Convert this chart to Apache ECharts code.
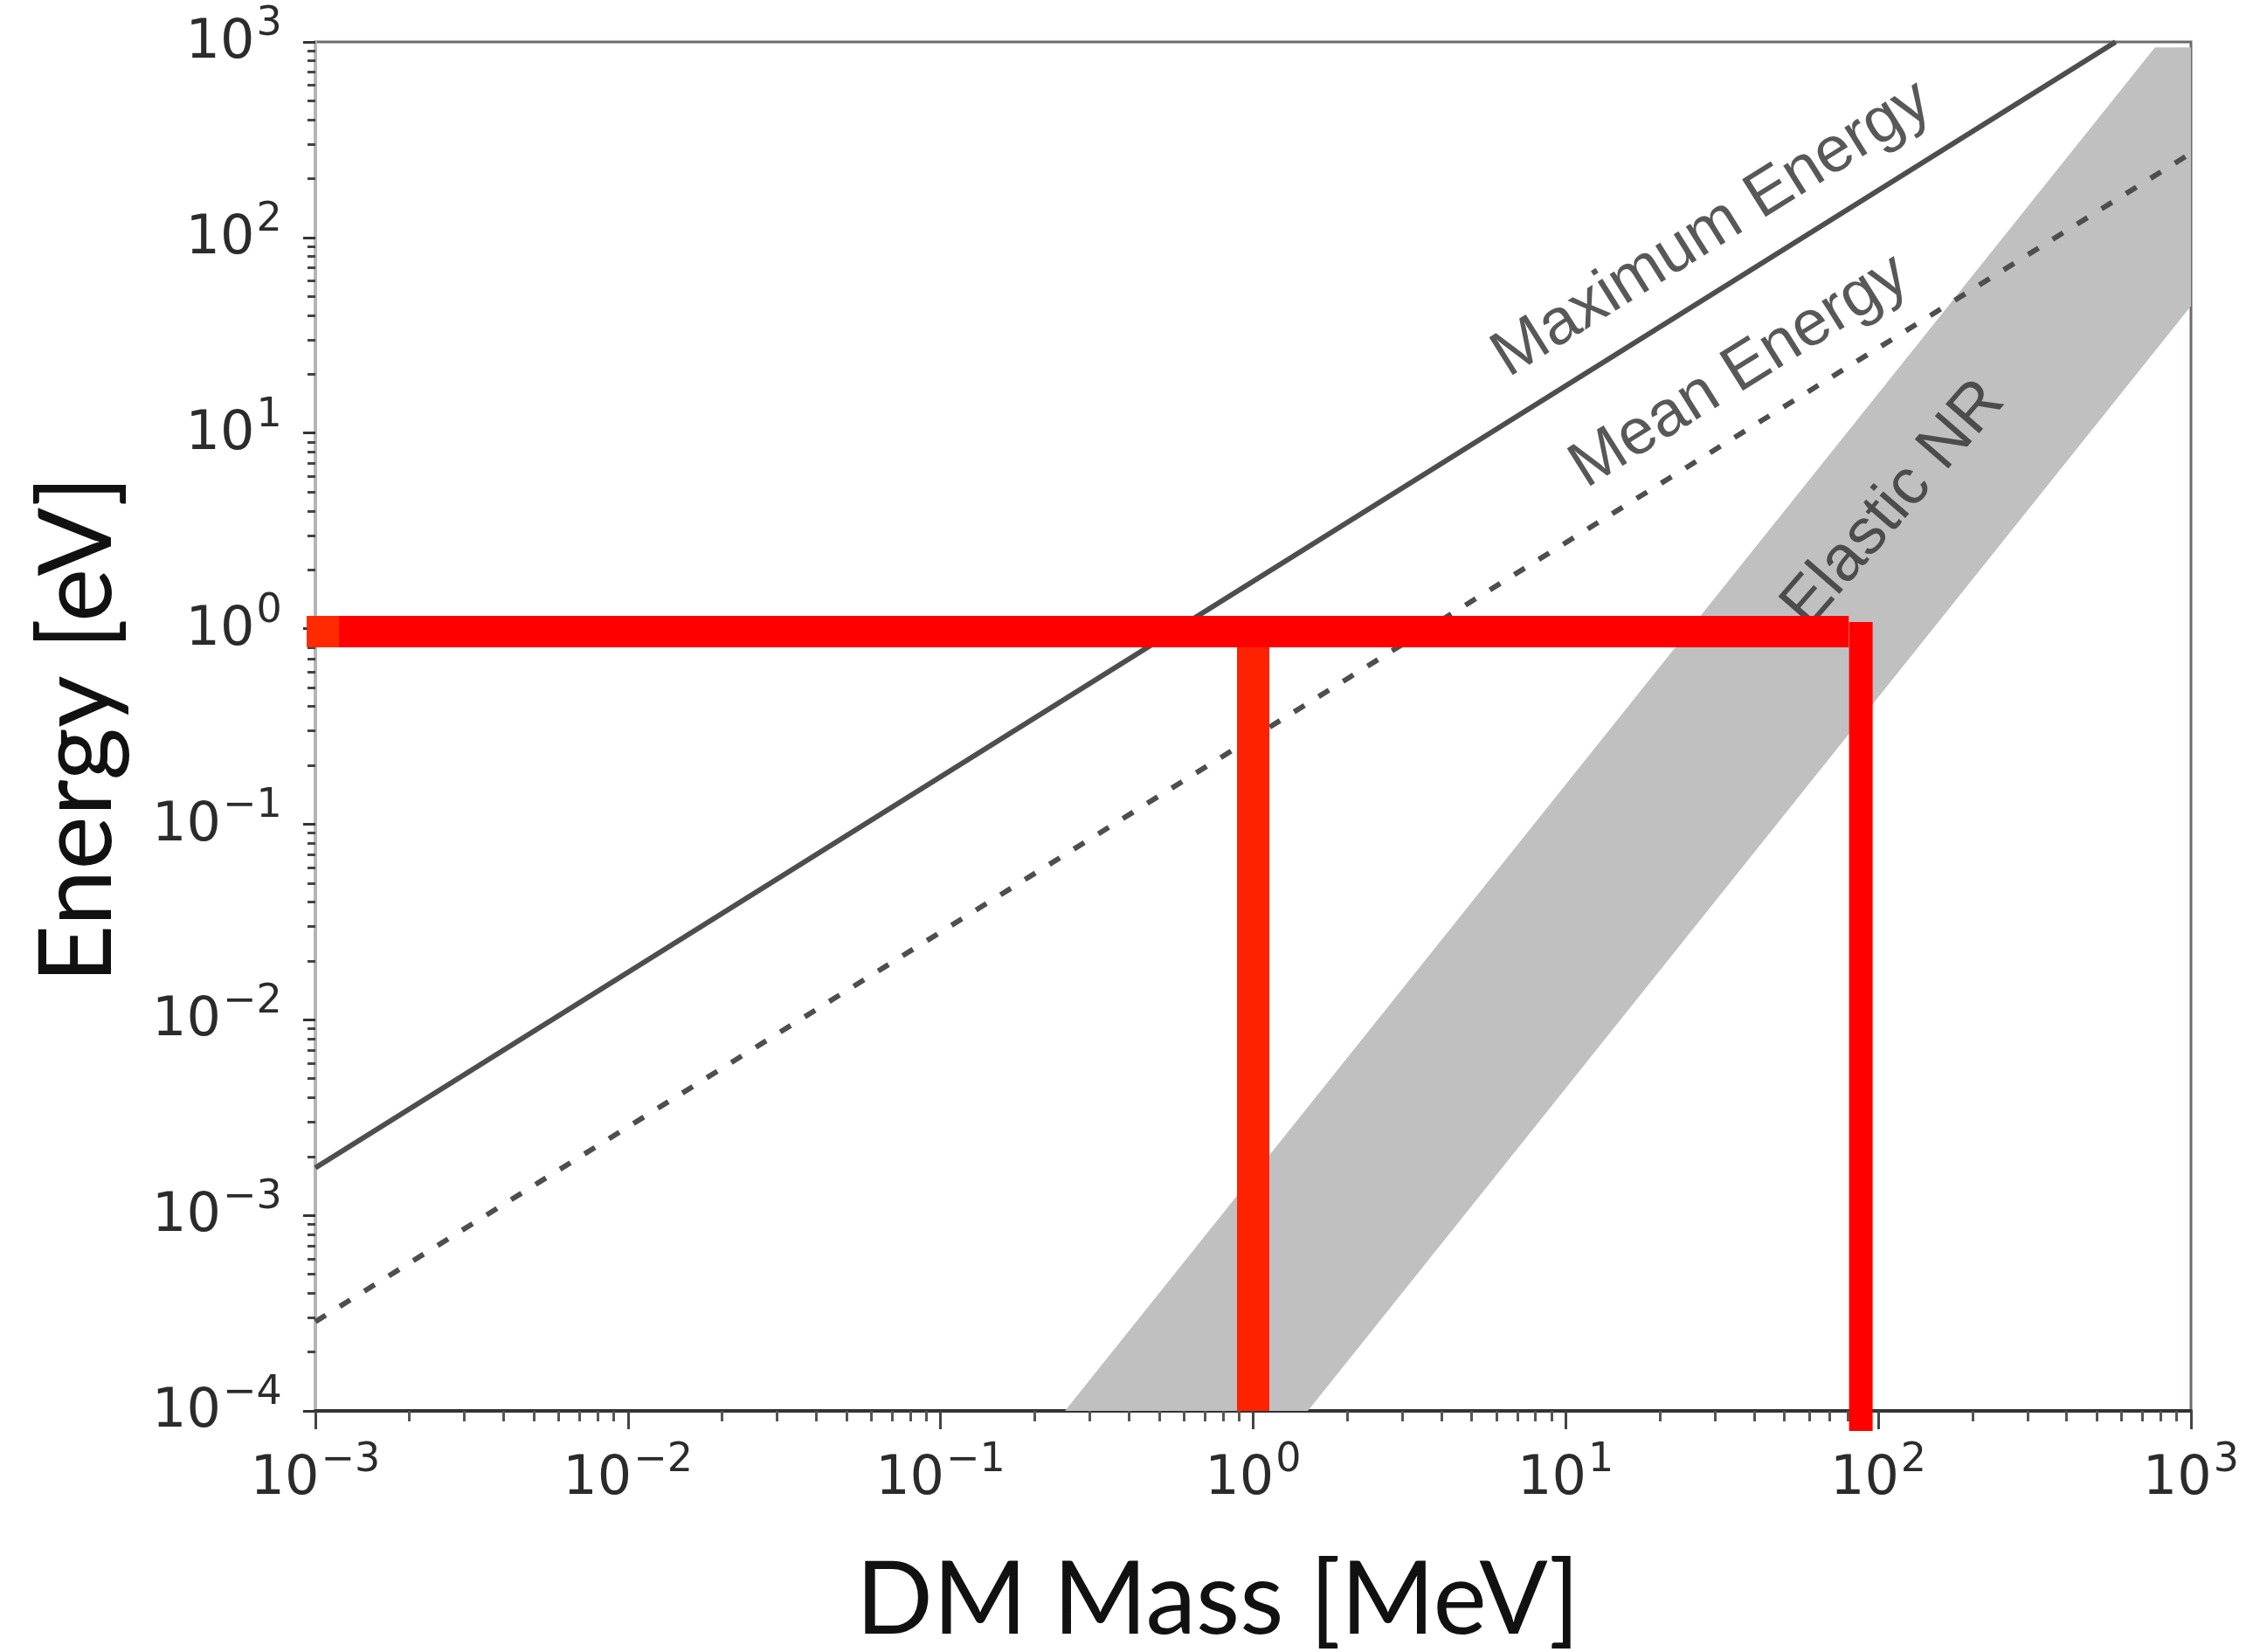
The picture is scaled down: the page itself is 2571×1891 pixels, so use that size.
<!DOCTYPE html>
<html>
<head>
<meta charset="utf-8">
<script src="https://cdn.jsdelivr.net/npm/echarts@6/dist/echarts.min.js"></script>
<style>
  html, body { margin: 0; padding: 0; background: #ffffff; }
  #chart { width: 2571px; height: 1891px; }
</style>
</head>
<body>
<div id="chart"></div>
<script>
// Axis ranges: DM mass in MeV, energy in eV (both logarithmic)
const massRange = [1e-3, 1e3];
const energyRange = [1e-4, 1e3];
const massTickExponents = [-3, -2, -1, 0, 1, 2, 3];
const energyTickExponents = [-4, -3, -2, -1, 0, 1, 2, 3];

// Curves as [mass (MeV), energy (eV)]
const maximumEnergy = [[1e-3, 1.75e-3], [574, 1000]];
const meanEnergy = [[1e-3, 2.86e-4], [1000, 270]];

// Elastic nuclear-recoil band, upper and lower edges
const elasticNRUpper = [[0.25, 1e-4], [767, 937], [1000, 937]];
const elasticNRLower = [[1.496, 1e-4], [1000, 44.7]];

// Highlighted thresholds: ~1 eV energy, 1 MeV and ~90 MeV mass
const thresholdEnergy = [[1.19e-3, 0.965], [80.4, 0.965]];
const thresholdEnergyStub = [[9.38e-4, 0.965], [1.19e-3, 0.965]];
const thresholdMassLow = [[1, 0.965], [1, 1e-4]];
const thresholdMassHigh = [[87.9, 1.08], [87.9, 7.9e-5]];

// In-plot curve labels, anchored in data coordinates
const curveLabels = [
  { name: 'Maximum Energy', value: [29.4, 110] },
  { name: 'Mean Energy', value: [36, 20.6] },
  { name: 'Elastic NR', value: [112, 4.33] }
];
const curveLabelAngles = { 'Maximum Energy': 32, 'Mean Energy': 32, 'Elastic NR': 49 };

const tickFont = '"DejaVu Sans", sans-serif';
const tickColor = '#2b2b2b';

function supText(e) {
  return e < 0 ? '\u2212' + (-e) : String(e);
}
function powerLabel(allowed) {
  return function (v) {
    const e = Math.round(Math.log10(v));
    if (allowed.indexOf(e) < 0) return '';
    // base "10", raised exponent, and a strut that sets the line height
    return '{b|10}{s|' + supText(e) + '}{h| }';
  };
}
const tickRich = {
  b: { fontFamily: tickFont, fontSize: 62, color: tickColor, lineHeight: 62, verticalAlign: 'bottom' },
  s: { fontFamily: tickFont, fontSize: 46, color: tickColor, lineHeight: 46, verticalAlign: 'top', padding: [0, 0, 0, 2] },
  h: { fontSize: 1, lineHeight: 76, color: 'rgba(0,0,0,0)' }
};

const chart = echarts.init(document.getElementById('chart'), null, { renderer: 'canvas' });

chart.setOption({
  animation: false,
  backgroundColor: '#ffffff',
  grid: {
    left: 361, top: 48, width: 2147, height: 1567,
    show: true, borderColor: '#6f6a6a', borderWidth: 3, backgroundColor: 'transparent'
  },
  xAxis: {
    type: 'log', logBase: 10, min: massRange[0], max: massRange[1], splitNumber: 6,
    axisLine: { show: true, onZero: false, lineStyle: { color: '#333333', width: 4 } },
    axisTick: { show: true, length: 21, lineStyle: { color: '#444444', width: 3 } },
    minorTick: { show: true, splitNumber: 9, length: 12, lineStyle: { color: '#555555', width: 3 } },
    splitLine: { show: false },
    minorSplitLine: { show: false },
    axisLabel: { margin: 34, formatter: powerLabel(massTickExponents), rich: tickRich }
  },
  yAxis: {
    type: 'log', logBase: 10, min: energyRange[0], max: energyRange[1], splitNumber: 7,
    axisLine: { show: true, onZero: false, lineStyle: { color: '#b5b5b5', width: 3 } },
    axisTick: { show: true, length: 14, lineStyle: { color: '#333333', width: 3 } },
    minorTick: { show: true, splitNumber: 9, length: 9, lineStyle: { color: '#444444', width: 3 } },
    splitLine: { show: false },
    minorSplitLine: { show: false },
    axisLabel: { margin: 38, formatter: powerLabel(energyTickExponents), rich: tickRich, padding: [0, 0, 10, 0] }
  },
  graphic: [
    {
      type: 'text', x: 1394, y: 1833,
      style: { text: 'DM Mass [MeV]', fontFamily: 'Lato', fontSize: 116, fill: '#111111', align: 'center', verticalAlign: 'middle' }
    },
    {
      type: 'text', x: 90, y: 835, rotation: Math.PI / 2,
      style: { text: 'Energy [eV]', fontFamily: 'Lato', fontSize: 116, fill: '#111111', align: 'center', verticalAlign: 'middle' }
    }
  ],
  series: [
    {
      name: 'Elastic NR band',
      type: 'custom',
      silent: true,
      z: 1,
      data: elasticNRUpper.slice(0, 1),
      renderItem: function (params, api) {
        const pts = elasticNRUpper.concat(elasticNRLower.slice().reverse()).map(function (p) { return api.coord(p); });
        return { type: 'polygon', shape: { points: pts }, style: { fill: '#c0c0c0' } };
      }
    },
    {
      name: 'Maximum Energy', type: 'line', data: maximumEnergy, symbol: 'none', silent: true, z: 2,
      lineStyle: { color: '#4e4e4e', width: 6 }
    },
    {
      name: 'Mean Energy', type: 'line', data: meanEnergy, symbol: 'none', silent: true, z: 2,
      lineStyle: { color: '#4e4e4e', width: 6, type: [14, 19] }
    },
    {
      name: 'curve labels', type: 'scatter', symbolSize: 0, silent: true, z: 3,
      data: curveLabels.map(function (d) {
        return { name: d.name, value: d.value, label: { rotate: curveLabelAngles[d.name] } };
      }),
      label: {
        show: true, position: 'inside',
        fontFamily: '"Liberation Sans", Arial, sans-serif', fontSize: 74, color: '#2e2e2e',
        formatter: function (p) { return p.name; }
      }
    },
    {
      name: 'mass 1 MeV', type: 'line', data: thresholdMassLow, symbol: 'none', silent: true, z: 5, clip: false,
      lineStyle: { color: '#ff2200', width: 37, cap: 'butt' }
    },
    {
      name: 'energy 1 eV', type: 'line', data: thresholdEnergy, symbol: 'none', silent: true, z: 6, clip: false,
      lineStyle: { color: '#ff0000', width: 36, cap: 'butt' }
    },
    {
      name: 'energy 1 eV stub', type: 'line', data: thresholdEnergyStub, symbol: 'none', silent: true, z: 6, clip: false,
      lineStyle: { color: '#ff2a00', width: 36, cap: 'butt' }
    },
    {
      name: 'mass 90 MeV', type: 'line', data: thresholdMassHigh, symbol: 'none', silent: true, z: 6, clip: false,
      lineStyle: { color: '#ff0000', width: 27, cap: 'butt' }
    }
  ]
});
</script>
</body>
</html>
